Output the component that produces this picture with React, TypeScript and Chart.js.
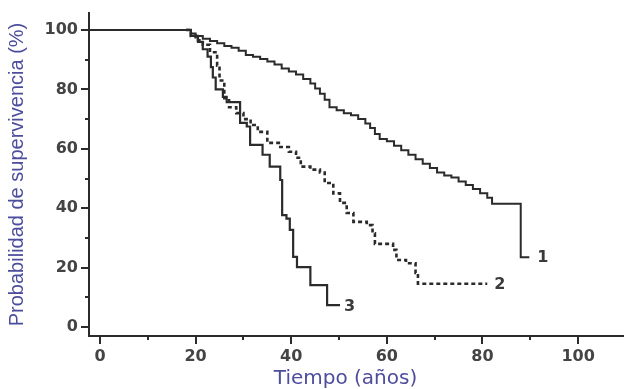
import React, { useEffect, useRef } from "react";
import { Chart, registerables } from "chart.js";

Chart.register(...registerables);

const X_MIN = -2.3;
const X_MAX = 109.6;
const Y_MIN = -3;
const Y_MAX = 105.7;

// Curve 1 (solid, thin)
const t1 = [X_MIN, 18, 19, 20, 21.5, 23, 24.5, 26, 27.5, 29, 30.5, 32, 33.5, 35, 36.5, 38, 39.5, 41, 42.5, 44, 45, 46, 47, 48, 49.5, 51, 52.5, 54, 55.5, 56.5, 57.5, 58.5, 60, 61.5, 63, 64.5, 66, 67.5, 69, 70.5, 72, 73.5, 75, 76.5, 78, 79.5, 81, 82, 88, 89.8];
const s1 = [100, 100, 98.8, 98, 97, 96.3, 95.5, 94.6, 94, 93, 91.6, 91, 90.2, 89.4, 88.4, 87, 86, 85, 83.5, 82, 80.3, 78.5, 76.5, 74, 73, 72, 71.3, 70, 68.5, 67, 65, 63.3, 62.5, 61, 59.5, 58, 56.5, 55, 53.5, 52, 51, 50.3, 49, 47.8, 46.5, 45, 43.5, 41.5, 23.5, 23.5];

// Curve 2 (dashed)
const t2 = [18, 19, 20, 21.5, 23, 24.5, 25, 26, 27, 28.5, 30, 31.5, 33, 35, 37.7, 39.5, 41, 42, 44, 46, 47, 48.8, 50.2, 51.6, 53, 55.8, 57, 57.5, 61.3, 62, 64, 66, 66.5, 81];
const s2 = [100, 98, 96.5, 95, 92.5, 88, 83, 77, 74, 72, 70, 68, 65.7, 62, 60.6, 59, 57, 54, 53, 52, 48.5, 45, 41.8, 38.4, 35.4, 34.3, 31.6, 28, 26, 22.6, 21.5, 18.2, 14.6, 14.6];

// Curve 3 (solid, thick)
const t3 = [18, 19, 20.5, 21.5, 22.5, 23.2, 23.6, 24.2, 25.7, 26.5, 29.3, 30.7, 31.4, 34, 35.5, 37.7, 38.1, 39, 39.7, 40.4, 41.2, 44, 47.5, 50.2];
const s3 = [100, 98, 96, 93.5, 91, 87.5, 84, 80, 77.5, 75.7, 68.7, 67.5, 61.3, 58, 54, 49.5, 37.7, 36.5, 32.7, 23.6, 20.2, 14.1, 7.4, 7.4];

const curveLabels = ["1", "2", "3"];
const labelT = [92.6, 83.6, 52.2];
const labelS = [23.5, 14.6, 7.2];

const X_TITLE = "Tiempo (años)";
const Y_TITLE = "Probabilidad de supervivencia (%)";

const toPts = (t: number[], s: number[]) => t.map((x, i) => ({ x, y: s[i] }));

const INK = "#2b2b2b";
const TITLE = "#4d4d9e";
const TICK_TEXT = "#444";

const decorations = {
  id: "decorations",
  afterDraw(chart: any) {
    const ctx = chart.ctx;
    const { x, y } = chart.scales;
    ctx.save();
    ctx.strokeStyle = INK;
    ctx.lineWidth = 2;
    for (let v = 0; v <= 100; v += 10) {
      const len = v % 20 === 0 ? 8 : 4;
      const px = Math.round(x.getPixelForValue(v));
      ctx.beginPath();
      ctx.moveTo(px, x.top);
      ctx.lineTo(px, x.top + len);
      ctx.stroke();
      const py = Math.round(y.getPixelForValue(v));
      ctx.beginPath();
      ctx.moveTo(y.right, py);
      ctx.lineTo(y.right - len, py);
      ctx.stroke();
    }
    ctx.fillStyle = "#3a3a3a";
    ctx.font = "bold 16px 'DejaVu Sans', sans-serif";
    ctx.textAlign = "center";
    ctx.textBaseline = "middle";
    curveLabels.forEach((lab, i) => {
      ctx.fillText(lab, x.getPixelForValue(labelT[i]), y.getPixelForValue(labelS[i]) + 1);
    });
    ctx.fillStyle = TITLE;
    ctx.font = "20px 'DejaVu Sans', sans-serif";
    ctx.fillText(X_TITLE, (x.left + x.right) / 2 - 11, 379);
    ctx.restore();
  },
};

export default function App() {
  const ref = useRef<HTMLCanvasElement | null>(null);
  useEffect(() => {
    document.body.style.margin = "0";
    const canvas = ref.current;
    if (!canvas) return;
    const tickFont = { family: "'DejaVu Sans', sans-serif", size: 16, weight: "bold" as const };
    const clear = "rgba(0,0,0,0)";
    const chart = new Chart(canvas, {
      type: "line",
      data: {
        datasets: [
          {
            data: toPts(t3, s3),
            borderColor: INK,
            borderWidth: 2.2,
            stepped: true,
            pointRadius: 0,
            fill: false,
          },
          {
            data: toPts(t2, s2),
            borderColor: INK,
            borderWidth: 2.6,
            borderDash: [4, 3],
            stepped: true,
            pointRadius: 0,
            fill: false,
          },
          {
            data: toPts(t1, s1),
            borderColor: INK,
            borderWidth: 2,
            stepped: true,
            pointRadius: 0,
            fill: false,
          },
        ],
      },
      options: {
        animation: false,
        responsive: false,
        maintainAspectRatio: false,
        layout: { padding: { top: 13, right: 0, left: 0, bottom: 0 } },
        plugins: { legend: { display: false }, tooltip: { enabled: false } },
        scales: {
          x: {
            type: "linear",
            min: X_MIN,
            max: X_MAX,
            afterFit: (s: any) => {
              s.height = 53;
            },
            border: { display: true, color: INK, width: 2 },
            grid: {
              drawOnChartArea: false,
              drawTicks: true,
              tickLength: 8,
              color: clear,
            },
            ticks: {
              stepSize: 10,
              includeBounds: false,
              maxRotation: 0,
              autoSkip: false,
              padding: 3,
              color: TICK_TEXT,
              font: tickFont,
              callback: (v: any) => (Number(v) % 20 === 0 ? String(v) : ""),
            },
            title: { display: false, text: X_TITLE },
          },
          y: {
            type: "linear",
            min: Y_MIN,
            max: Y_MAX,
            afterFit: (s: any) => {
              s.width = 89;
            },
            border: { display: true, color: INK, width: 2 },
            grid: {
              drawOnChartArea: false,
              drawTicks: true,
              tickLength: 8,
              color: clear,
            },
            ticks: {
              stepSize: 10,
              includeBounds: false,
              autoSkip: false,
              padding: 3,
              color: TICK_TEXT,
              font: tickFont,
              callback: (v: any) => (Number(v) % 20 === 0 ? String(v) : ""),
            },
            title: {
              display: true,
              text: Y_TITLE,
              color: TITLE,
              font: { family: "'Liberation Sans', Arial, sans-serif", size: 20 },
              padding: { top: 5, bottom: 0 },
            },
          },
        },
      },
      plugins: [decorations],
    });
    return () => chart.destroy();
  }, []);
  return (
    <div style={{ width: 624, height: 389, background: "#fff" }}>
      <canvas ref={ref} width={624} height={389} style={{ display: "block" }} />
    </div>
  );
}
